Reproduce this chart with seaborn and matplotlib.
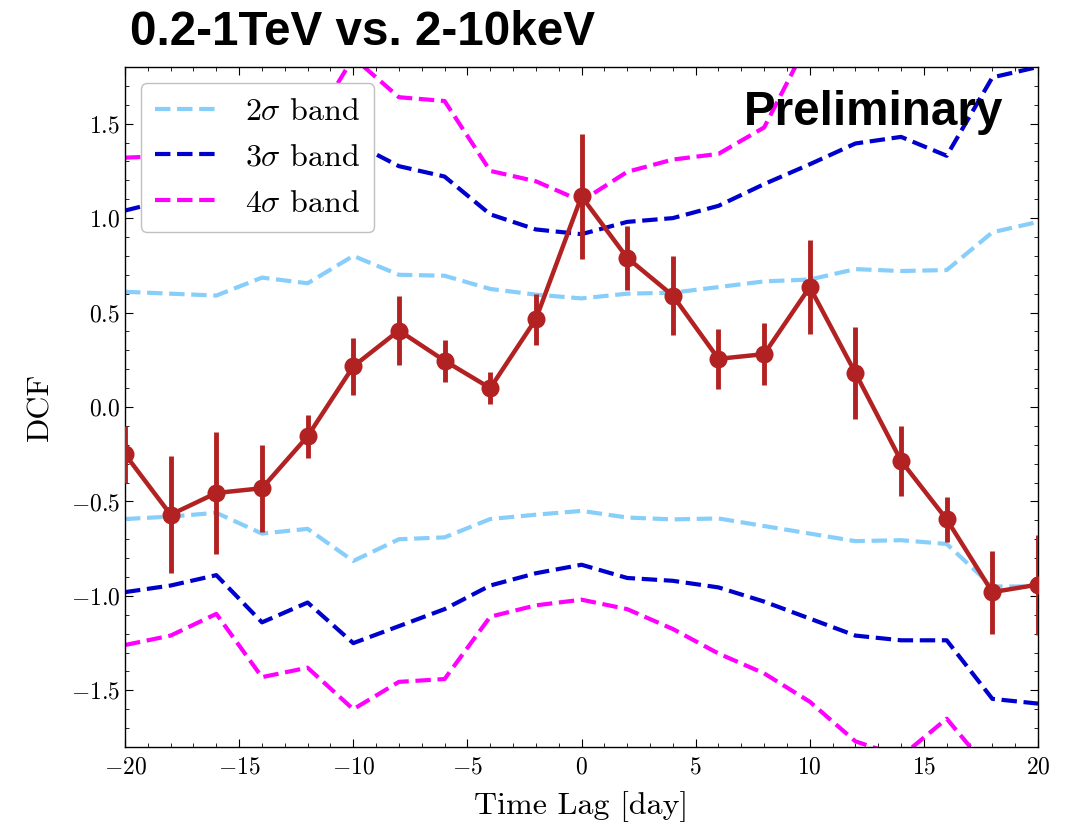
import numpy as np
import pandas as pd
import matplotlib
matplotlib.use("Agg")
import matplotlib.pyplot as plt
from matplotlib.ticker import MultipleLocator
import seaborn as sns

# Time lags (days)
lag = [-20, -18, -16, -14, -12, -10, -8, -6, -4, -2, 0,
       2, 4, 6, 8, 10, 12, 14, 16, 18, 20]

# Discrete correlation function and its uncertainty
dcf = [-0.25, -0.57, -0.455, -0.43, -0.155, 0.215, 0.405, 0.245, 0.10, 0.465, 1.115,
       0.79, 0.59, 0.255, 0.28, 0.635, 0.18, -0.285, -0.595, -0.98, -0.94]
dcf_err = [0.15, 0.31, 0.325, 0.23, 0.115, 0.15, 0.185, 0.11, 0.085, 0.135, 0.33,
           0.17, 0.21, 0.16, 0.165, 0.25, 0.245, 0.185, 0.12, 0.22, 0.265]

# Significance bands from simulated light curves
band2_hi = [0.61, 0.60, 0.59, 0.685, 0.655, 0.80, 0.70, 0.695, 0.625, 0.595, 0.575,
            0.60, 0.605, 0.635, 0.665, 0.675, 0.73, 0.72, 0.725, 0.925, 0.98]
band2_lo = [-0.593, -0.58, -0.56, -0.67, -0.645, -0.815, -0.70, -0.69, -0.593, -0.57, -0.55,
            -0.585, -0.595, -0.59, -0.63, -0.67, -0.71, -0.705, -0.725, -0.95, -0.95]
band3_hi = [1.04, 1.10, 1.17, 1.25, 1.33, 1.40, 1.275, 1.22, 1.02, 0.94, 0.915,
            0.98, 1.00, 1.065, 1.18, 1.285, 1.395, 1.43, 1.33, 1.745, 1.80]
band3_lo = [-0.98, -0.945, -0.89, -1.14, -1.035, -1.25, -1.16, -1.07, -0.945, -0.88, -0.835,
            -0.905, -0.92, -0.955, -1.03, -1.12, -1.21, -1.235, -1.235, -1.545, -1.57]
band4_hi = [1.32, 1.33, 1.36, 1.40, 1.45, 1.85, 1.64, 1.62, 1.25, 1.195, 1.09,
            1.245, 1.31, 1.34, 1.48, 1.95, 2.10, 2.20, 2.20, 2.30, 2.30]
band4_lo = [-1.26, -1.21, -1.095, -1.43, -1.38, -1.60, -1.455, -1.44, -1.11, -1.05, -1.02,
            -1.07, -1.175, -1.305, -1.41, -1.56, -1.77, -1.85, -1.65, -1.94, -2.0]

band_labels = [r"$2\sigma$ band", r"$3\sigma$ band", r"$4\sigma$ band"]
band_colors = ["#87CEFA", "#0000CD", "#FF00FF"]

sns.set_style("ticks")
plt.rcParams.update({
    "font.family": "serif",
    "font.serif": ["cmr10"],
    "mathtext.fontset": "cm",
    "axes.formatter.use_mathtext": True,
    "axes.unicode_minus": True,
    "text.color": "black",
    "axes.labelcolor": "black",
    "axes.edgecolor": "black",
    "xtick.color": "black",
    "ytick.color": "black",
    "xtick.direction": "in",
    "ytick.direction": "in",
    "xtick.top": True,
    "ytick.right": True,
    "xtick.minor.visible": True,
    "ytick.minor.visible": True,
    "xtick.major.size": 6,
    "ytick.major.size": 6,
    "xtick.minor.size": 3,
    "ytick.minor.size": 3,
    "xtick.major.pad": 7,
    "axes.linewidth": 1.0,
})

fig = plt.figure(figsize=(10.74, 8.25), dpi=100)
ax = fig.add_axes([0.1164, 0.0945, 0.8501, 0.8243])

bands = [(band2_hi, band2_lo), (band3_hi, band3_lo), (band4_hi, band4_lo)]
for (hi, lo), label, color in zip(bands, band_labels, band_colors):
    df_hi = pd.DataFrame({"lag": lag, "v": hi})
    df_lo = pd.DataFrame({"lag": lag, "v": lo})
    sns.lineplot(data=df_hi, x="lag", y="v", ax=ax, color=color, lw=3,
                 linestyle="--", label=label, zorder=2)
    sns.lineplot(data=df_lo, x="lag", y="v", ax=ax, color=color, lw=3,
                 linestyle="--", label="_nolegend_", zorder=2)

df = pd.DataFrame({"lag": lag, "dcf": dcf, "err": dcf_err})
ax.errorbar(df["lag"], df["dcf"], yerr=df["err"], fmt="none",
            ecolor="#B22222", elinewidth=3.5, capsize=0, zorder=3)
sns.lineplot(data=df, x="lag", y="dcf", ax=ax, color="#B22222", lw=3.2,
             marker="o", markersize=13, markeredgewidth=0, zorder=4,
             label="_nolegend_")

ax.set_xlim(-20, 20)
ax.set_ylim(-1.8, 1.8)
ax.xaxis.set_major_locator(MultipleLocator(5))
ax.xaxis.set_minor_locator(MultipleLocator(1))
ax.yaxis.set_major_locator(MultipleLocator(0.5))
ax.yaxis.set_minor_locator(MultipleLocator(0.1))
ax.tick_params(labelsize=17)
ax.set_xlabel("Time Lag [day]", fontsize=23, labelpad=9)
ax.set_ylabel("DCF", fontsize=23, labelpad=12)

leg = ax.legend(loc="upper left", fontsize=23, frameon=True, fancybox=True,
                framealpha=1.0, edgecolor="#c0c0c0", handlelength=2.0,
                borderpad=0.45, labelspacing=0.55)
leg.set_zorder(10)

ax.text(0.962, 0.915, "Preliminary", transform=ax.transAxes, ha="right",
        va="baseline", fontsize=34.3, fontweight="bold", color="black",
        family=["Liberation Sans", "DejaVu Sans"], zorder=5)

fig.text(0.121, 0.945, "0.2-1TeV vs. 2-10keV", ha="left", va="baseline",
         fontsize=34.3, fontweight="bold", color="black",
         family=["Liberation Sans", "DejaVu Sans"])

fig.savefig("out.png", dpi=100)
